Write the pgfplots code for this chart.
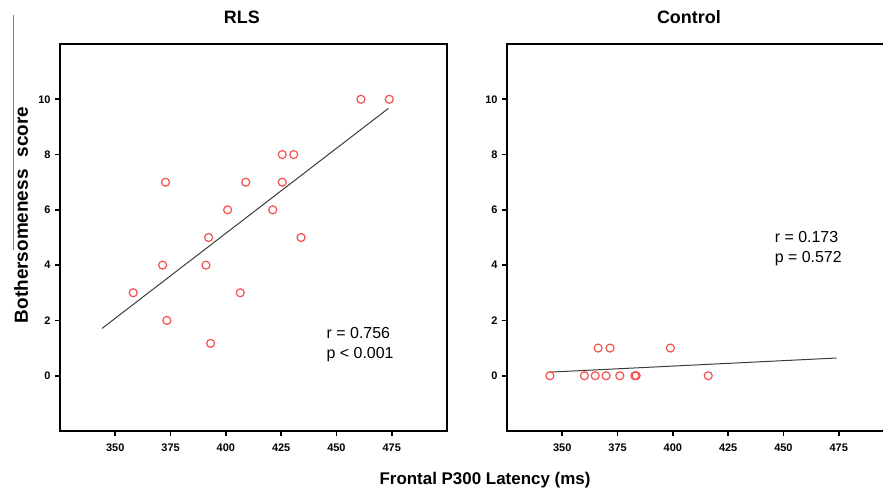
\documentclass[border=0pt]{standalone}
\usepackage{fontspec}
\setmainfont{Liberation Sans}
\usepackage{pgfplots}
\pgfplotsset{compat=1.18}
\definecolor{ptred}{RGB}{245,80,80}
\definecolor{fitgray}{RGB}{60,60,60}
\pgfplotsset{myax/.style={
  scale only axis, width=387bp, height=387bp,
  xmin=325, xmax=500, ymin=-2, ymax=12,
  xtick={350,375,...,475}, ytick={0,2,...,10},
  xtick pos=bottom, ytick pos=left, tick align=outside,
  major tick length=5bp,
  axis line style={line width=2.2bp},
  every tick/.style={line width=1.6bp, black},
  /pgf/number format/assume math mode=true,
  tick label style={font=\bfseries\fontsize{11}{13}\selectfont},
  xticklabel style={yshift=-4bp},
  yticklabel style={xshift=-1bp},
  title style={at={(0.47,1)}, anchor=center, yshift=21bp, font=\bfseries\fontsize{18}{22}\selectfont},
  clip=false,
}}
\begin{document}
\begin{tikzpicture}
\useasboundingbox (0,0) rectangle (883bp,491bp);
\draw[line width=1bp, gray] (13bp,476bp) -- (13bp,241bp);
\begin{axis}[myax, at={(60bp,60bp)}, anchor=south west, title={RLS}]
\addplot[fitgray, line width=1bp] coordinates {(344,1.71) (473.5,9.67)};
\addplot[only marks, mark=o, mark size=4bp, ptred, mark options={line width=1.2bp}] coordinates {
(461.1,10) (473.9,10) (425.5,8) (430.7,8) (372.7,7) (409.0,7) (425.5,7)
(400.8,6) (421.2,6) (392.2,5) (434.0,5) (371.4,4) (391.0,4) (358.1,3)
(406.5,3) (373.3,2) (393.1,1.17)};
\node[anchor=west, align=left, font=\fontsize{16}{20}\selectfont] at (axis cs:444,1.13) {r = 0.756\\p < 0.001};
\end{axis}
\begin{axis}[myax, at={(507bp,60bp)}, anchor=south west, title={Control}]
\addplot[fitgray, line width=1bp] coordinates {(344.5,0.13) (474,0.64)};
\addplot[only marks, mark=o, mark size=4bp, ptred, mark options={line width=1.2bp}] coordinates {
(344.4,0) (360.0,0) (364.9,0) (369.8,0) (376.0,0) (382.8,0) (383.4,0) (416.0,0)
(366.2,1) (371.6,1) (398.9,1)};
\node[anchor=west, align=left, font=\fontsize{16}{20}\selectfont] at (axis cs:444.5,4.59) {r = 0.173\\p = 0.572};
\end{axis}
\node[rotate=90, font=\bfseries\fontsize{19}{22}\selectfont] at (21bp,276bp) {Bothersomeness\hspace{12bp}score};
\node[font=\bfseries\fontsize{17}{20}\selectfont] at (485bp,11bp) {Frontal P300 Latency (ms)};
\end{tikzpicture}
\end{document}
